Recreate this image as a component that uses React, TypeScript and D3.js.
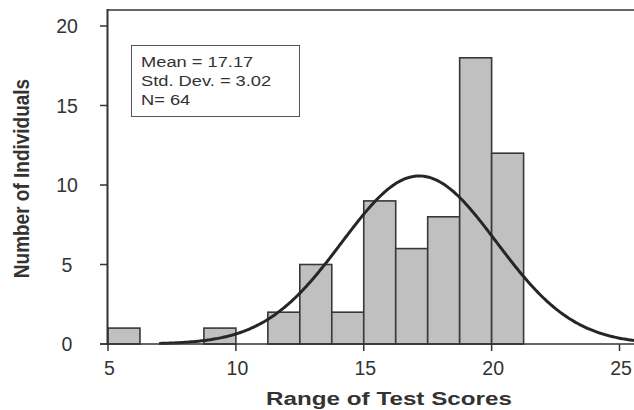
import * as d3 from "d3";
import React, { useEffect, useRef } from "react";

// histogram bins (width 1.25) and counts
const binStarts = [5, 6.25, 7.5, 8.75, 10, 11.25, 12.5, 13.75, 15, 16.25, 17.5, 18.75, 20];
const counts = [1, 0, 0, 1, 0, 2, 5, 2, 9, 6, 8, 18, 12];
const binWidth = 1.25;
const xTicks = [5, 10, 15, 20, 25];
const yTicks = [0, 5, 10, 15, 20];
const mean = 17.17;
const stdDev = 3.02;
const total = 64;
const legendLines = ["Mean = 17.17", "Std. Dev. = 3.02", "N= 64"];

const w = 634;
const h = 410;

export default function App() {
  const svgRef = useRef<SVGSVGElement>(null);

  useEffect(() => {
    const svg = d3.select(svgRef.current);
    svg.selectAll("*").remove();

    const x = d3.scaleLinear().domain([5, 25]).range([108, 619.5]);
    const y = d3.scaleLinear().domain([0, 20]).range([344, 26]);
    const left = x(5) - 0.5;
    const top = y(21);
    const base = y(0);

    const font = "Arial, 'Liberation Sans', Helvetica, sans-serif";

    // text helper, sx = horizontal stretch seen in the reference
    const label = (g, tx, ty, txt, size, sx, anchor, weight = "normal") =>
      g.append("text")
        .attr("transform", `translate(${tx},${ty}) scale(${sx},1)`)
        .attr("font-family", font)
        .attr("font-size", size)
        .attr("font-weight", weight)
        .attr("text-anchor", anchor)
        .attr("fill", "#333")
        .text(txt);

    // bars
    const bars = binStarts.map((s, i) => ({ s, c: counts[i] })).filter(d => d.c > 0);
    svg.append("g").selectAll("rect")
      .data(bars)
      .enter()
      .append("rect")
      .attr("x", d => x(d.s))
      .attr("y", d => y(d.c))
      .attr("width", d => x(d.s + binWidth) - x(d.s))
      .attr("height", d => base - y(d.c))
      .attr("fill", "#c0c0c0")
      .attr("stroke", "#383838")
      .attr("stroke-width", 1.6);

    // normal fit curve
    const xEnd = x.invert(w);
    const pts = d3.range(7, xEnd, 0.05).concat([xEnd]);
    const fit = (v) => total * binWidth * Math.exp(-((v - mean) ** 2) / (2 * stdDev * stdDev)) / (stdDev * Math.sqrt(2 * Math.PI));
    svg.append("path")
      .attr("d", d3.line<number>().x(v => x(v)).y(v => y(fit(v)))(pts))
      .attr("fill", "none")
      .attr("stroke", "#262626")
      .attr("stroke-width", 3);

    // frame: top border, y axis, x baseline
    svg.append("line").attr("x1", left).attr("x2", w).attr("y1", top).attr("y2", top)
      .attr("stroke", "#666").attr("stroke-width", 2);
    svg.append("line").attr("x1", left).attr("x2", left).attr("y1", top - 1).attr("y2", base + 1)
      .attr("stroke", "#333").attr("stroke-width", 2);
    svg.append("line").attr("x1", 100).attr("x2", w).attr("y1", base).attr("y2", base)
      .attr("stroke", "#333").attr("stroke-width", 1.6);

    // y ticks
    const gy = svg.append("g");
    yTicks.forEach(t => {
      gy.append("line").attr("x1", 100).attr("x2", left).attr("y1", y(t)).attr("y2", y(t))
        .attr("stroke", "#333").attr("stroke-width", 1.5);
      label(gy, 67, y(t) + 7, String(t), 19.5, 1, "middle");
    });

    // x ticks
    const gx = svg.append("g");
    xTicks.forEach(t => {
      gx.append("line").attr("x1", x(t)).attr("x2", x(t)).attr("y1", base).attr("y2", base + 7)
        .attr("stroke", "#333").attr("stroke-width", 1.5);
      label(gx, x(t) + 1.5, 375, String(t), 19.5, 1, "middle");
    });

    // axis titles
    label(svg, 389, 405, "Range of Test Scores", 18.5, 1.31, "middle", "bold");
    svg.append("text")
      .attr("transform", "translate(28.5,178.5) scale(1.2,1) rotate(-90)")
      .attr("font-family", font)
      .attr("font-size", 19)
      .attr("font-weight", "bold")
      .attr("text-anchor", "middle")
      .attr("fill", "#333")
      .text("Number of Individuals");

    // stats box
    const lg = svg.append("g");
    lg.append("rect").attr("x", 131.5).attr("y", 45.5).attr("width", 168).attr("height", 71)
      .attr("fill", "#fff").attr("stroke", "#555").attr("stroke-width", 1);
    legendLines.forEach((t, i) => {
      label(lg, 141, 67 + i * 19.2, t, 15.5, 1.18, "start");
    });
  }, []);

  return (
    <svg
      ref={svgRef}
      width={w}
      height={h}
      viewBox={`0 0 ${w} ${h}`}
      style={{ position: "absolute", left: 0, top: 0, background: "#fff" }}
    />
  );
}
